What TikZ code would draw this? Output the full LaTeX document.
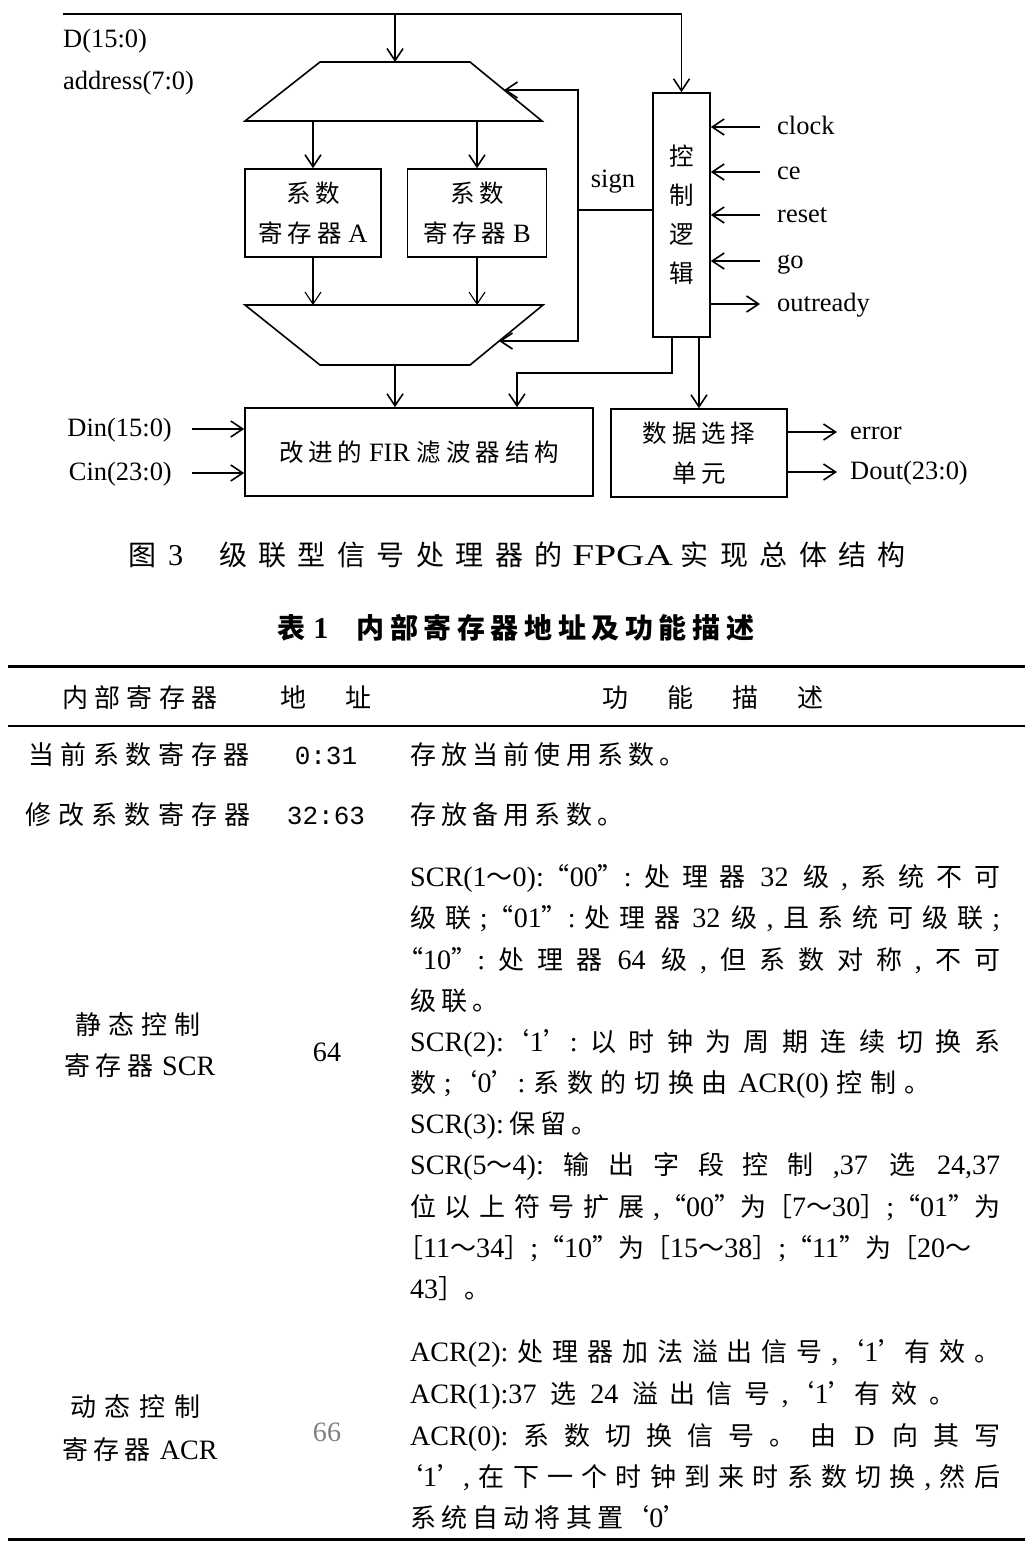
\documentclass[tikz,border=0pt]{standalone}
\usepackage{fontspec}
\setmainfont{Liberation Serif}
\newfontfamily\zhfont{Noto Sans CJK SC}
\newfontfamily\lserif[Scale=1.08]{Liberation Serif}
\newfontfamily\lmono{Liberation Mono}
\usetikzlibrary{arrows.meta,positioning}

% latin / chinese switching
\let\curlat\lserif
\newcommand\enfont{\curlat}
\makeatletter
\newcommand\setcls[3]{\count@=#1 \loop\XeTeXcharclass\count@=#3 \ifnum\count@<#2 \advance\count@\@ne\repeat}
\setcls{"0021}{"2FFF}{0}
\setcls{"3000}{"303F}{7}
\setcls{"4E00}{"9FFF}{7}
\setcls{"FF00}{"FFEF}{7}
\makeatother
\XeTeXcharclass"FF5E=8 \XeTeXcharclass"FF3B=8 \XeTeXcharclass"FF3D=8
\XeTeXcharclass"2018=8 \XeTeXcharclass"2019=8 \XeTeXcharclass"201C=8 \XeTeXcharclass"201D=8
\XeTeXinterchartoks 0 7 = {\hskip 0.2em plus 100pt\zhfont}
\XeTeXinterchartoks 7 0 = {\hskip 0.2em plus 100pt\enfont}
\XeTeXinterchartoks 7 7 = {\hskip 0.2em plus 100pt}
\XeTeXinterchartoks 4095 7 = {\zhfont}
\XeTeXinterchartoks 7 4095 = {\enfont}
\XeTeXinterchartoks 4095 0 = {\enfont}
\XeTeXinterchartoks 0 8 = {\zhfont}
\XeTeXinterchartoks 8 0 = {\enfont}
\XeTeXinterchartoks 4095 8 = {\zhfont}
\XeTeXinterchartoks 8 4095 = {\enfont}

\newcommand\dgfont{\fontsize{24.5}{40}\selectfont}
\newcommand\tabfont{\fontsize{26}{41}\selectfont}
\newcommand\capfont{\fontsize{28}{34}\selectfont}
\newcommand\jlw[2]{\makebox[#1][s]{\spaceskip=0.3em plus 100pt\relax#2}}
\newcommand\jl[1]{\jlw{590pt}{#1}}

\begin{document}
\XeTeXinterchartokenstate=1
\begin{tikzpicture}[x=1pt,y=-1pt,
  box/.style={draw, line width=1.6pt, inner sep=0pt, font=\dgfont, align=center},
  sig/.style={line width=1.6pt, -{Straight Barb[length=12pt,width=16pt]}},
  lbl/.style={font=\dgfont, inner sep=0pt, text height=20pt, text depth=6pt},
  cell/.style={font=\tabfont, inner sep=0pt, text height=22pt, text depth=4pt},
  dl/.style={cell, anchor=west}]
\useasboundingbox (0,0) rectangle (1032,1553);

% ---- figure 3 ----
\coordinate (bus) at (63,14);
\coordinate (tap) at (395,14);
\node[lbl, anchor=west] (dlab) at (63,40) {D(15:0)};
\node[lbl, anchor=west] (alab) at (63,82) {address(7:0)};

\node[box, minimum width=57pt, minimum height=244pt, font=\fontsize{24.5}{39}\selectfont] (ctrl) at (681.5,215) {控\\制\\逻\\辑};

% upper selector
\draw[line width=1.6pt] (320,62) -- (470,62) -- (542,121) -- (245,121) -- cycle;
\coordinate (dmxin) at (395,62);
\coordinate (dmxa) at (313,121);
\coordinate (dmxb) at (477,121);
\coordinate (dmxfb) at (504,90);

\node[box, minimum width=136pt, minimum height=88pt] (rega) at (313,213) {系数\\寄存器 A};
\node[box, minimum width=139pt, minimum height=88pt] (regb) at (477,213) {系数\\寄存器 B};

% lower selector
\draw[line width=1.6pt] (245,305) -- (543,305) -- (470,365) -- (320,365) -- cycle;
\coordinate (muxa) at (313,305);
\coordinate (muxb) at (477,305);
\coordinate (muxout) at (395,365);
\coordinate (muxfb) at (499,341);

\node[box, minimum width=348pt, minimum height=88pt] (fir) at (419,452) {改进的 FIR 滤波器结构};
\node[box, minimum width=176pt, minimum height=88pt] (sel) at (699,453) {数据选择\\单元};

\draw[sig] (bus) -| (ctrl.north);
\draw[sig] (tap) -- (dmxin);
\draw[sig] (dmxa) -- (rega.north);
\draw[sig] (dmxb) -- (regb.north);
\draw[sig, line width=1.1pt] (rega.south) -- (muxa);
\draw[sig, line width=1.1pt] (regb.south) -- (muxb);

% sign feedback
\coordinate (fb) at (578,210);
\draw[line width=1.6pt] (ctrl.west |- fb) -- (fb);
\draw[sig] (fb) |- (dmxfb);
\draw[sig] (fb) |- (muxfb);
\node[lbl] (sgn) at (613,180) {sign};

\draw[sig] (muxout) -- (muxout |- fir.north);
\coordinate (cf) at (517,373);
\draw[sig] ([xshift=-9.5pt]ctrl.south) |- (cf) -- (cf |- fir.north);
\draw[sig] (ctrl.south -| sel.north) -- (sel.north);

% control inputs
\node[lbl, anchor=west] (clk) at (777,127) {clock};
\node[lbl, anchor=west] (ce) at (777,172) {ce};
\node[lbl, anchor=west] (rst) at (777,215) {reset};
\node[lbl, anchor=west] (go) at (777,261) {go};
\node[lbl, anchor=west] (ordy) at (777,304) {outready};
\draw[sig] ([xshift=-17pt]clk.west) -- (clk.west -| ctrl.east);
\draw[sig] ([xshift=-17pt]ce.west) -- (ce.west -| ctrl.east);
\draw[sig] ([xshift=-17pt]rst.west) -- (rst.west -| ctrl.east);
\draw[sig] ([xshift=-17pt]go.west) -- (go.west -| ctrl.east);
\draw[sig] (ordy.west -| ctrl.east) -- ([xshift=-17pt]ordy.west);

% data in / out
\node[lbl, anchor=east] (din) at (172,429) {Din(15:0)};
\node[lbl, anchor=east] (cin) at (172,473) {Cin(23:0)};
\draw[sig] ([xshift=20pt]din.east) -- (din.east -| fir.west);
\draw[sig] ([xshift=20pt]cin.east) -- (cin.east -| fir.west);
\node[lbl, anchor=west] (err) at (850,432) {error};
\node[lbl, anchor=west] (dout) at (850,472) {Dout(23:0)};
\draw[sig] (err.west -| sel.east) -- ([xshift=-13pt]err.west);
\draw[sig] (dout.west -| sel.east) -- ([xshift=-13pt]dout.west);

\node[font=\capfont, inner sep=0pt] (cap) at (517,555) {\makebox[778pt][s]{图\hspace{12pt}3\hspace{36pt}级联型信号处理器的\hspace{10pt}\scalebox{1.3}[1]{FPGA}\hspace{8pt}实现总体结构}};

% ---- table 1 ----
\node[font=\capfont\bfseries, inner sep=0pt] (ttl) at (516,628) {表 1\hspace{28pt}内部寄存器地址及功能描述};

\draw[line width=3pt] (8,666) -- (1025,666);
\draw[line width=2.2pt] (8,726) -- (1025,726);
\draw[line width=3pt] (8,1539) -- (1025,1539);

\node[cell] (h1) at (140,698) {\makebox[155pt][s]{内部寄存器}};
\node[cell] (h2) at (326,698) {\makebox[92pt][s]{地址}};
\node[cell] (h3) at (713,698) {\makebox[222pt][s]{功能描述}};

\node[cell] (r1a) at (139,755) {\makebox[222pt][s]{当前系数寄存器}};
\node[cell] (r1b) at (326,755) {\let\curlat\lmono 0:31};
\node[dl] (r1c) at (410,755) {存放当前使用系数。};
\node[cell] (r2a) at (138,815) {\makebox[225pt][s]{修改系数寄存器}};
\node[cell] (r2b) at (326,815) {\let\curlat\lmono 32:63};
\node[dl] (r2c) at (410,815) {存放备用系数。};

\node[cell] (s1) at (138,1025) {\makebox[125pt][s]{静态控制}};
\node[cell] (s2) at (140,1066) {寄存器\hspace{9pt}SCR};
\node[cell] (sad) at (327,1052) {64};
\node[dl] (sd1) at (410,877) {\jl{SCR(1～0):“00”:处理器 32 级,系统不可}};
\node[dl] (sd2) at (410,918) {\jl{级联;“01”:处理器 32 级,且系统可级联;}};
\node[dl] (sd3) at (397,960) {\jlw{603pt}{“10”:处理器 64 级,但系数对称,不可}};
\node[dl] (sd4) at (410,1001) {级联。};
\node[dl] (sd5) at (410,1042) {\jl{SCR(2):‘1’:以时钟为周期连续切换系}};
\node[dl] (sd6) at (410,1083) {\jlw{520pt}{数;‘0’:系数的切换由 ACR(0)控制。}};
\node[dl] (sd7) at (410,1124) {SCR(3):保留。};
\node[dl] (sd8) at (410,1165) {\jl{SCR(5～4):输出字段控制,37 选 24,37}};
\node[dl] (sd9) at (410,1207) {\jl{位以上符号扩展,“00”为［7～30］;“01”为}};
\node[dl] (sd10) at (397,1248) {\jlw{603pt}{［11～34］;“10”为［15～38］;“11”为［20～}};
\node[dl] (sd11) at (410,1289) {43］。};

\node[cell] (a1) at (135,1407) {\makebox[130pt][s]{动态控制}};
\node[cell] (a2) at (140,1450) {寄存器\hspace{9pt}ACR};
\node[cell, text=gray] (aad) at (327,1432) {66};
\node[dl] (ad1) at (410,1352) {\jl{ACR(2):处理器加法溢出信号,‘1’有效。}};
\node[dl] (ad2) at (410,1394) {\jlw{545pt}{ACR(1):37 选 24 溢出信号,‘1’有效。}};
\node[dl] (ad3) at (410,1436) {\jl{ACR(0):系数切换信号。由 D 向其写}};
\node[dl] (ad4) at (397,1477) {\jlw{603pt}{‘1’,在下一个时钟到来时系数切换,然后}};
\node[dl] (ad5) at (410,1518) {系统自动将其置‘0’};
\end{tikzpicture}
\end{document}
